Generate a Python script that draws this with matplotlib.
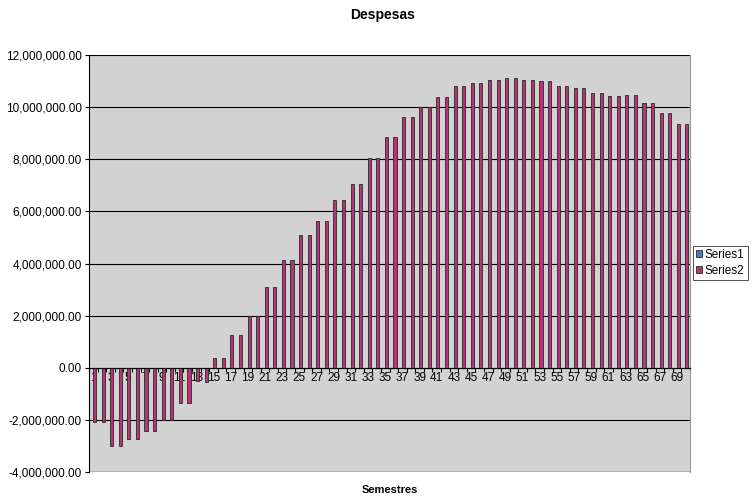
import numpy as np
import matplotlib
matplotlib.use("Agg")
import matplotlib.pyplot as plt
from matplotlib.ticker import StrMethodFormatter, FixedLocator

plt.rcParams["font.family"] = ["Liberation Sans", "DejaVu Sans"]
plt.rcParams["axes.unicode_minus"] = False

# Semesters 1..70
semestres = list(range(1, 71))

# Series1 (all zero) and Series2 (expenses per semester)
series1 = [0.0] * 70
series2 = [
    -2.10e6, -2.10e6, -3.01e6, -3.01e6, -2.74e6, -2.74e6, -2.42e6, -2.42e6,
    -2.01e6, -2.01e6, -1.35e6, -1.35e6, -0.52e6, -0.54e6, 0.39e6, 0.39e6,
    1.25e6, 1.25e6, 1.98e6, 1.98e6, 3.10e6, 3.10e6, 4.15e6, 4.15e6,
    5.08e6, 5.08e6, 5.63e6, 5.63e6, 6.45e6, 6.45e6, 7.06e6, 7.06e6,
    8.05e6, 8.05e6, 8.87e6, 8.87e6, 9.61e6, 9.61e6, 9.99e6, 9.99e6,
    10.40e6, 10.40e6, 10.80e6, 10.80e6, 10.91e6, 10.91e6, 11.03e6, 11.03e6,
    11.12e6, 11.12e6, 11.04e6, 11.04e6, 11.00e6, 11.00e6, 10.80e6, 10.80e6,
    10.75e6, 10.75e6, 10.53e6, 10.53e6, 10.43e6, 10.43e6, 10.47e6, 10.47e6,
    10.16e6, 10.16e6, 9.78e6, 9.78e6, 9.36e6, 9.36e6,
]
series_names = ["Series1", "Series2"]
series_colors = ["#3f7fd0", "#b33574"]

fig = plt.figure(figsize=(7.53, 4.97), dpi=100)
ax = fig.add_axes([89 / 753, 1 - 472 / 497, (690 - 89) / 753, (472 - 55) / 497])
ax.set_facecolor("#d2d2d2")

x = np.array(semestres)
offset = 1 / 7   # two bars per category, gap width 150%
w = 0.36
ax.bar(x - offset, series1, w, color=series_colors[0], edgecolor="#2a2a2a",
       linewidth=0.6, label=series_names[0], zorder=3)
ax.bar(x + offset, series2, w, color=series_colors[1], edgecolor="#2a2a2a",
       linewidth=0.6, label=series_names[1], zorder=3)

ax.set_xlim(0.5, 70.5)
ax.set_ylim(-4e6, 12e6)
ax.yaxis.set_major_locator(FixedLocator(np.arange(-4e6, 12.1e6, 2e6)))
ax.yaxis.set_major_formatter(StrMethodFormatter("{x:,.2f}"))
ax.grid(axis="y", color="black", linewidth=0.8, zorder=1)
ax.set_axisbelow(True)
ax.tick_params(axis="y", labelsize=8.5, length=3, width=0.8, color="black", pad=2)

# Category axis sits on the zero line
ax.spines["bottom"].set_position(("data", 0))
ax.spines["bottom"].set_color("black")
ax.spines["bottom"].set_linewidth(0.8)
ax.spines["bottom"].set_zorder(4)
ax.spines["left"].set_color("black")
ax.spines["left"].set_linewidth(0.8)
ax.spines["top"].set_visible(False)
ax.spines["right"].set_color("#999999")
ax.set_xticks(x[::2])
ax.set_xticklabels([str(s) for s in semestres[::2]])
ax.set_xticks(np.arange(0.5, 71, 1), minor=True)
ax.tick_params(axis="x", which="major", length=0, labelsize=8.5, pad=3)
ax.tick_params(axis="x", which="minor", length=3, width=0.8, direction="out")
ax.axhline(-4e6, color="#666666", linewidth=1.0, zorder=2)

fig.text(383 / 753, 1 - 15 / 497, "Despesas", ha="center", va="center",
         fontsize=10, fontweight="bold")
fig.text(390 / 753, 1 - 490 / 497, "Semestres", ha="center", va="center",
         fontsize=8, fontweight="bold")

leg = fig.legend(loc="center left", bbox_to_anchor=(693 / 753, 1 - 263 / 497),
                 fontsize=8.5, frameon=True, fancybox=False, handlelength=0.55,
                 handleheight=0.55, handletextpad=0.2, borderpad=0.25,
                 labelspacing=0.35, borderaxespad=0)
leg.get_frame().set_edgecolor("black")
leg.get_frame().set_linewidth(0.6)

fig.savefig("out.png", dpi=100)
